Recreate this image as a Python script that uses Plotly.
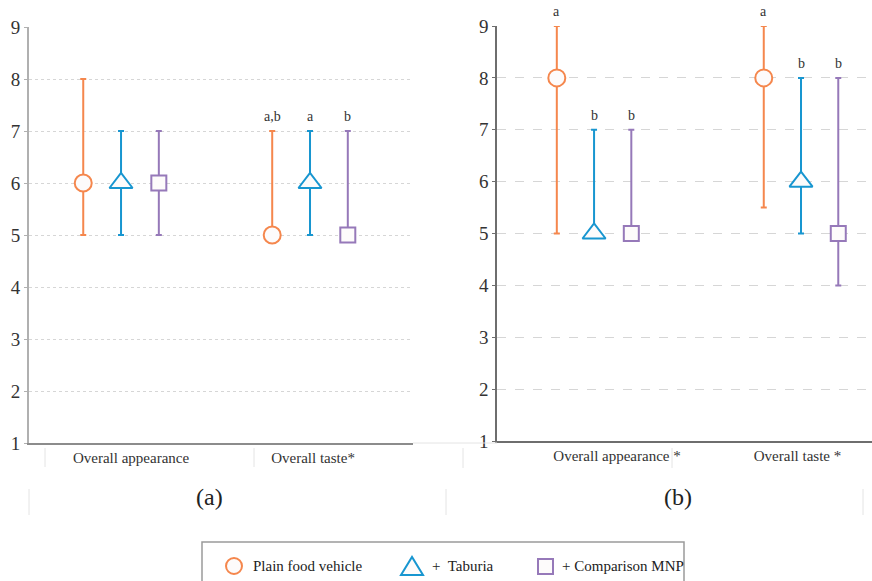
import plotly.graph_objects as go

# ---------------- data ----------------
categories_a = ["Overall appearance", "Overall taste*"]
categories_b = ["Overall appearance *", "Overall taste *"]
series_names = ["Plain food vehicle", "+  Taburia", "+ Comparison MNP"]

# panel (a): median, min, max per series (order: appearance, taste)
a_median = {"plain": [6, 5], "taburia": [6, 6], "mnp": [6, 5]}
a_low = {"plain": [5, 5], "taburia": [5, 5], "mnp": [5, 5]}
a_high = {"plain": [8, 7], "taburia": [7, 7], "mnp": [7, 7]}
a_letters = {"plain": ["", "a,b"], "taburia": ["", "a"], "mnp": ["", "b"]}

# panel (b)
b_median = {"plain": [8, 8], "taburia": [5, 6], "mnp": [5, 5]}
b_low = {"plain": [5, 5.5], "taburia": [5, 5], "mnp": [5, 4]}
b_high = {"plain": [9, 9], "taburia": [7, 8], "mnp": [7, 8]}
b_letters = {"plain": ["a", "a"], "taburia": ["b", "b"], "mnp": ["b", "b"]}

y_ticks = [1, 2, 3, 4, 5, 6, 7, 8, 9]

# ---------------- styles ----------------
W, H = 872, 581
FONT = "Liberation Serif"
keys = ["plain", "taburia", "mnp"]
colors = {"plain": "#F5874D", "taburia": "#1896D0", "mnp": "#9679B9"}
symbols = {"plain": "circle", "taburia": "triangle-up", "mnp": "square"}
sizes = {"plain": 17, "taburia": 20, "mnp": 15}
FILL = "#FDFBFB"


def px(x):
    return x / W


def py(y):
    return 1 - y / H


fig = go.Figure()

panels = [
    ("x", "y", categories_a, a_median, a_low, a_high, a_letters, 0.2),
    ("x2", "y2", categories_b, b_median, b_low, b_high, b_letters, 0.18),
]

annotations = []
for xa, ya, cats, med, lo, hi, letters, off in panels:
    for i, k in enumerate(keys):
        xs = [j + 1 + (i - 1) * off for j in range(len(cats))]
        fig.add_trace(go.Scatter(
            x=xs, y=med[k], xaxis=xa, yaxis=ya, mode="markers",
            name=series_names[i], showlegend=False,
            marker=dict(symbol=symbols[k], size=sizes[k], color=FILL,
                        line=dict(color=colors[k], width=2)),
            error_y=dict(type="data", symmetric=False,
                         array=[h - m for h, m in zip(hi[k], med[k])],
                         arrayminus=[m - l for m, l in zip(med[k], lo[k])],
                         color=colors[k], thickness=2, width=3),
        ))
        for xv, hv, t in zip(xs, hi[k], letters[k]):
            if t:
                annotations.append(dict(
                    x=xv, y=hv, xref=xa, yref=ya, text=t, showarrow=False,
                    xanchor="center", yanchor="bottom", yshift=5,
                    font=dict(family=FONT, size=14, color="#333")))

axis_common = dict(showgrid=False, zeroline=False, ticks="", showline=True,
                   automargin=False,
                   tickfont=dict(family=FONT, size=15, color="#333"))
yaxis_common = dict(range=[1, 9], tickvals=y_ticks, showgrid=True,
                    gridcolor="#D6D6D6", gridwidth=1, zeroline=False,
                    showline=True, ticks="outside", ticklen=3, automargin=False,
                    tickfont=dict(family=FONT, size=19, color="#333"))

fig.update_layout(
    width=W, height=H, autosize=False,
    margin=dict(l=0, r=0, t=0, b=0, pad=0, autoexpand=False),
    paper_bgcolor="white", plot_bgcolor="white",
    showlegend=False,
    xaxis=dict(domain=[px(29), px(413)], range=[0.513, 2.545],
               tickvals=[1.053, 2.016], ticktext=categories_a,
               linecolor="#8C8C8C", linewidth=1.5, anchor="y", **axis_common),
    yaxis=dict(domain=[py(443), py(27)], anchor="x", griddash="dot",
               linecolor="#B0B0B0", linewidth=2, tickcolor="#B0B0B0",
               **yaxis_common),
    xaxis2=dict(domain=[px(497), 1], range=[0.531, 2.343],
                tickvals=[1.111, 1.983], ticktext=categories_b,
                linecolor="#6E6E6E", linewidth=1.5, anchor="y2", **axis_common),
    yaxis2=dict(domain=[py(441), py(26)], anchor="x2", griddash="dash",
                linecolor="#6E6E6E", linewidth=1.5, tickcolor="#6E6E6E",
                **yaxis_common),
)

# sub-figure labels
for xc, t in [(209, "(a)"), (678, "(b)")]:
    annotations.append(dict(x=px(xc), y=py(497), xref="paper", yref="paper",
                            text=t, showarrow=False,
                            xanchor="center", yanchor="middle",
                            font=dict(family=FONT, size=24, color="#222")))

# legend (drawn manually)
shapes = []
shapes.append(dict(type="rect", xref="paper", yref="paper",
                   x0=px(202), x1=px(684), y0=py(542), y1=py(600),
                   line=dict(color="#9A9A9A", width=1.5), fillcolor="rgba(0,0,0,0)"))
ly = 566
shapes.append(dict(type="circle", xref="paper", yref="paper",
                   x0=px(226), x1=px(242), y0=py(574), y1=py(558),
                   line=dict(color=colors["plain"], width=2), fillcolor=FILL))
shapes.append(dict(type="path", xref="paper", yref="paper",
                   path=f"M {px(401)},{py(575)} L {px(423)},{py(575)} L {px(412)},{py(557)} Z",
                   line=dict(color=colors["taburia"], width=2), fillcolor=FILL))
shapes.append(dict(type="rect", xref="paper", yref="paper",
                   x0=px(538), x1=px(553), y0=py(574), y1=py(559),
                   line=dict(color=colors["mnp"], width=2), fillcolor=FILL))
for xstart, t in zip([251, 430, 560], series_names):
    annotations.append(dict(x=px(xstart), y=py(ly), xref="paper", yref="paper",
                            text=t, showarrow=False, xanchor="left",
                            yanchor="middle",
                            font=dict(family=FONT, size=15, color="#222")))

# faint table borders of the original figure
faint = "#E4E4E4"
for x0, y0, x1, y1 in [(45, 448, 45, 467), (254, 448, 254, 467),
                       (463, 448, 463, 468), (672, 448, 672, 468),
                       (29, 489, 29, 515), (446, 489, 446, 515),
                       (863, 489, 863, 515), (413, 443, 497, 443)]:
    shapes.append(dict(type="line", xref="paper", yref="paper",
                       x0=px(x0), x1=px(x1), y0=py(y0), y1=py(y1),
                       line=dict(color=faint, width=1)))

fig.update_layout(annotations=annotations, shapes=shapes)
fig.write_html(
    "out.html",
    config={"displayModeBar": False},
    post_script="document.body.style.margin='0';document.body.style.overflow='hidden';",
)
